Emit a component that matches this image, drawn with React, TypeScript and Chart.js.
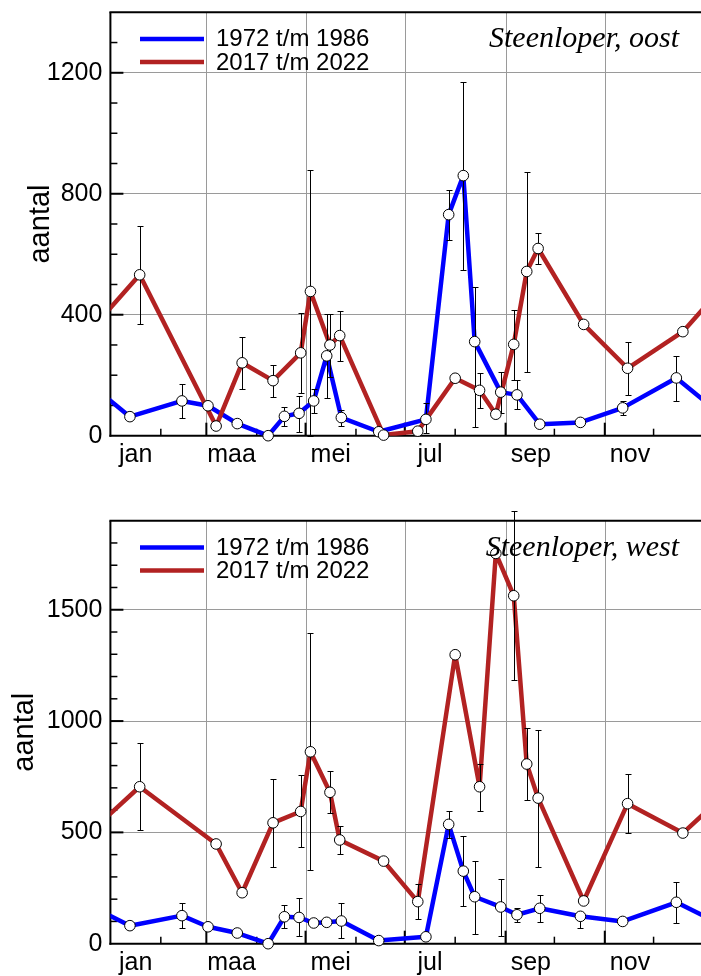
import React, { useEffect, useRef } from "react";
import { Chart, registerables } from "chart.js";

Chart.register(...registerables);

// ---------- axis data ----------
const monthLabels = ["jan", "maa", "mei", "jul", "sep", "nov"];
const labelDays = [15.5, 74.5, 135.5, 196.5, 258.5, 319.5];
const monthStartDays = [31, 59, 90, 120, 151, 181, 212, 243, 273, 304, 334];
const gridMonthDays = [59, 120, 181, 243, 304];
const yearLength = 365;
const seriesNames = ["1972 t/m 1986", "2017 t/m 2022"];
const eastTicks = [0, 400, 800, 1200];
const westTicks = [0, 500, 1000, 1500];

// ---------- series data (day of year) ----------
const oldDays = [12, 44, 60, 78, 97, 107, 116, 125, 133, 142, 165, 194, 208, 217, 224, 240, 250, 264, 289, 315, 348];
const newDays = [18, 65, 81, 100, 117, 123, 135, 141, 168, 189, 212, 227, 237, 248, 256, 263, 291, 318, 352];

// Steenloper, oost
const eastOld = [63, 115, 99, 40, 0, 64, 74, 115, 264, 60, 13, 54, 731, 860, 311, 144, 135, 38, 44, 92, 191];
const eastOldLow = [null, 57, null, null, null, 32, 13, 74, 124, 32, null, 9, 647, 548, 30, 74, 87, null, null, 68, 116];
const eastOldHigh = [null, 172, null, null, null, 96, 132, 155, 402, 85, null, 107, 812, 1169, 493, 212, 184, null, null, 116, 264];
const eastNew = [532, 32, 241, 182, 274, 477, 300, 331, 2, 15, 190, 150, 71, 302, 543, 619, 368, 223, 344];
const eastNewLow = [370, null, 155, 129, 140, 0, 195, 248, null, null, null, 90, null, 184, 212, 568, null, 135, null];
const eastNewHigh = [694, null, 327, 234, 405, 878, 402, 411, null, null, null, 206, null, 415, 871, 671, null, 311, null];

// Steenloper, west
const westOld = [81, 126, 76, 48, 0, 121, 118, 93, 96, 102, 14, 31, 536, 326, 211, 165, 130, 159, 123, 100, 186];
const westOldLow = [null, 69, null, null, null, 69, 35, null, null, 24, null, null, 476, 169, 44, 35, 99, 97, 69, null, 94];
const westOldHigh = [null, 184, null, null, null, 172, 204, null, null, 184, null, null, 597, 485, 373, 289, 159, 217, 144, null, 277];
const westNew = [705, 448, 229, 543, 594, 862, 680, 466, 371, 189, 1298, 705, 1753, 1563, 807, 654, 192, 629, 497];
const westNewLow = [510, null, null, 346, 433, 331, 585, 403, null, 111, null, 597, null, 1183, 644, 346, null, 497, null];
const westNewHigh = [901, null, null, 738, 756, 1394, 775, 528, null, 268, null, 808, null, 1943, 970, 961, null, 762, null];

// ---------- styles ----------
const BLUE = "#0000ff";
const RED = "#b22222";
const GRID = "#9a9a9a";
const SANS = "'Liberation Sans', Arial, Helvetica, sans-serif";
const SERIF = "'Liberation Serif', 'Times New Roman', serif";
const CANVAS_W = 704;
const CANVAS_H = 468;

type PanelCfg = {
  title: string;
  yMax: number;
  yTicks: number[];
  yMinor: number;
  padTop: number;
  yTitleX: number;
  oldVals: number[];
  oldLow: (number | null)[];
  oldHigh: (number | null)[];
  newVals: number[];
  newLow: (number | null)[];
  newHigh: (number | null)[];
};

const panels: PanelCfg[] = [
  {
    title: "Steenloper, oost",
    yMax: 1400, yTicks: eastTicks, yMinor: 100, padTop: 12.3, yTitleX: 49,
    oldVals: eastOld, oldLow: eastOldLow, oldHigh: eastOldHigh,
    newVals: eastNew, newLow: eastNewLow, newHigh: eastNewHigh,
  },
  {
    title: "Steenloper, west",
    yMax: 1900, yTicks: westTicks, yMinor: 100, padTop: 12.7, yTitleX: 33,
    oldVals: westOld, oldLow: westOldLow, oldHigh: westOldHigh,
    newVals: westNew, newLow: westNewLow, newHigh: westNewHigh,
  },
];

const points = (days: number[], vals: number[]) => days.map((d, i) => ({ x: d, y: vals[i] }));
const wrapped = (days: number[], vals: number[]) => {
  const n = days.length;
  return [
    { x: days[n - 1] - yearLength, y: vals[n - 1] },
    ...points(days, vals),
    { x: days[0] + yearLength, y: vals[0] },
  ];
};

function makePlugin(p: PanelCfg) {
  const seg = (ctx: CanvasRenderingContext2D, x1: number, y1: number, x2: number, y2: number) => {
    ctx.beginPath();
    ctx.moveTo(x1, y1);
    ctx.lineTo(x2, y2);
    ctx.stroke();
  };
  return {
    id: "panelDeco",
    beforeDatasetsDraw(chart: any) {
      const { ctx, chartArea: a, scales } = chart;
      const x = scales.x, y = scales.y;
      ctx.save();
      ctx.strokeStyle = GRID;
      ctx.lineWidth = 1;
      for (const d of gridMonthDays) {
        const px = Math.round(x.getPixelForValue(d)) + 0.5;
        seg(ctx, px, a.top, px, a.bottom);
      }
      ctx.strokeStyle = "#000";
      ctx.lineWidth = 2;
      seg(ctx, a.left, a.top, a.left, a.bottom + 1);
      seg(ctx, a.left - 1, a.bottom, a.right, a.bottom);
      seg(ctx, a.left - 1, a.top, a.right, a.top);
      for (let v = p.yMinor; v < p.yMax; v += p.yMinor) {
        const py = y.getPixelForValue(v);
        const major = p.yTicks.includes(v);
        ctx.lineWidth = major ? 2 : 1.5;
        seg(ctx, a.left, py, a.left + (major ? 13 : 7), py);
      }
      for (const d of monthStartDays) {
        const px = x.getPixelForValue(d);
        const major = gridMonthDays.includes(d);
        ctx.lineWidth = major ? 2 : 1.5;
        seg(ctx, px, a.bottom, px, a.bottom - (major ? 13 : 7));
      }
      ctx.restore();
    },
    beforeDatasetDraw(chart: any, args: any) {
      if (args.index !== 2) return;
      const { ctx, scales } = chart;
      const x = scales.x, y = scales.y;
      ctx.save();
      ctx.strokeStyle = "#000";
      ctx.lineWidth = 1;
      const bars = (days: number[], lo: (number | null)[], hi: (number | null)[]) => {
        days.forEach((d, i) => {
          const l = lo[i], h = hi[i];
          if (l == null || h == null) return;
          const px = Math.round(x.getPixelForValue(d)) + 0.5;
          const y1 = Math.round(y.getPixelForValue(h)) + 0.5;
          const y2 = Math.round(y.getPixelForValue(l)) + 0.5;
          seg(ctx, px, y1, px, y2);
          seg(ctx, px - 3, y1, px + 3, y1);
          seg(ctx, px - 3, y2, px + 3, y2);
        });
      };
      bars(oldDays, p.oldLow, p.oldHigh);
      bars(newDays, p.newLow, p.newHigh);
      ctx.restore();
    },
    afterDraw(chart: any) {
      const { ctx, chartArea: a } = chart;
      ctx.save();
      // legend
      ctx.lineWidth = 4.5;
      ctx.strokeStyle = BLUE;
      seg(ctx, 140, a.top + 26.7, 204, a.top + 26.7);
      ctx.strokeStyle = RED;
      seg(ctx, 140, a.top + 49.7, 204, a.top + 49.7);
      ctx.fillStyle = "#000";
      ctx.font = `24px ${SANS}`;
      ctx.textAlign = "left";
      ctx.textBaseline = "alphabetic";
      ctx.fillText(seriesNames[0], 216, a.top + 34);
      ctx.fillText(seriesNames[1], 216, a.top + 57.3);
      // title
      ctx.font = `italic 30px ${SERIF}`;
      ctx.textAlign = "right";
      ctx.fillText(p.title, 679, a.top + 35);
      // y title
      ctx.translate(p.yTitleX, (a.top + a.bottom) / 2);
      ctx.rotate(-Math.PI / 2);
      ctx.font = `29px ${SANS}`;
      ctx.textAlign = "center";
      ctx.fillText("aantal", 0, 0);
      ctx.restore();
    },
  };
}

function Panel({ cfg, top }: { cfg: PanelCfg; top: number }) {
  const ref = useRef<HTMLCanvasElement | null>(null);
  useEffect(() => {
    if (!ref.current) return;
    const chart = new Chart(ref.current, {
      type: "line",
      data: {
        datasets: [
          {
            label: seriesNames[0],
            data: wrapped(oldDays, cfg.oldVals),
            borderColor: BLUE,
            borderWidth: 4.5,
            borderJoinStyle: "round",
            pointRadius: 0,
            fill: false,
            tension: 0,
            clip: 0,
            order: 4,
          },
          {
            label: seriesNames[1],
            data: wrapped(newDays, cfg.newVals),
            borderColor: RED,
            borderWidth: 4.5,
            borderJoinStyle: "round",
            pointRadius: 0,
            fill: false,
            tension: 0,
            clip: 0,
            order: 3,
          },
          {
            label: seriesNames[0] + " punten",
            data: points(oldDays, cfg.oldVals),
            showLine: false,
            pointRadius: 5.3,
            pointBackgroundColor: "#ffffff",
            pointBorderColor: "#000000",
            pointBorderWidth: 1,
            clip: false,
            order: 2,
          },
          {
            label: seriesNames[1] + " punten",
            data: points(newDays, cfg.newVals),
            showLine: false,
            pointRadius: 5.3,
            pointBackgroundColor: "#ffffff",
            pointBorderColor: "#000000",
            pointBorderWidth: 1,
            clip: false,
            order: 1,
          },
        ],
      } as any,
      options: {
        responsive: false,
        animation: false,
        devicePixelRatio: 1,
        events: [],
        layout: { autoPadding: false, padding: { top: cfg.padTop, left: 0, right: 0, bottom: 0 } },
        plugins: { legend: { display: false }, tooltip: { enabled: false } },
        scales: {
          x: {
            type: "linear",
            min: 0,
            max: yearLength,
            grid: { display: false },
            border: { display: false },
            afterBuildTicks: (s: any) => {
              s.ticks = labelDays.map((v) => ({ value: v }));
            },
            afterFit: (s: any) => {
              s.height = 32.3;
              s.paddingLeft = 0;
              s.paddingRight = 0;
            },
            ticks: {
              autoSkip: false,
              maxRotation: 0,
              padding: -4,
              color: "#000",
              font: { family: SANS, size: 25 },
              callback: (_v: any, i: number) => monthLabels[i],
            },
          },
          y: {
            min: 0,
            max: cfg.yMax,
            grid: { color: GRID, lineWidth: 1, drawTicks: false },
            border: { display: false },
            afterBuildTicks: (s: any) => {
              s.ticks = cfg.yTicks.map((v) => ({ value: v }));
            },
            afterFit: (s: any) => {
              s.width = 110.4;
              s.paddingTop = 0;
              s.paddingBottom = 0;
            },
            ticks: {
              padding: 8,
              color: "#000",
              font: { family: SANS, size: 25 },
              callback: (v: any) => String(v),
            },
          },
        },
      } as any,
      plugins: [makePlugin(cfg)],
    });
    return () => chart.destroy();
  }, [cfg]);
  return (
    <canvas
      ref={ref}
      width={CANVAS_W}
      height={CANVAS_H}
      style={{ position: "absolute", left: 0, top, width: CANVAS_W, height: CANVAS_H, display: "block" }}
    />
  );
}

export default function App() {
  return (
    <div
      style={{
        position: "absolute",
        left: 0,
        top: 0,
        width: 701,
        height: 976,
        overflow: "hidden",
        background: "#fff",
      }}
    >
      <Panel cfg={panels[0]} top={0} />
      <Panel cfg={panels[1]} top={508} />
    </div>
  );
}
